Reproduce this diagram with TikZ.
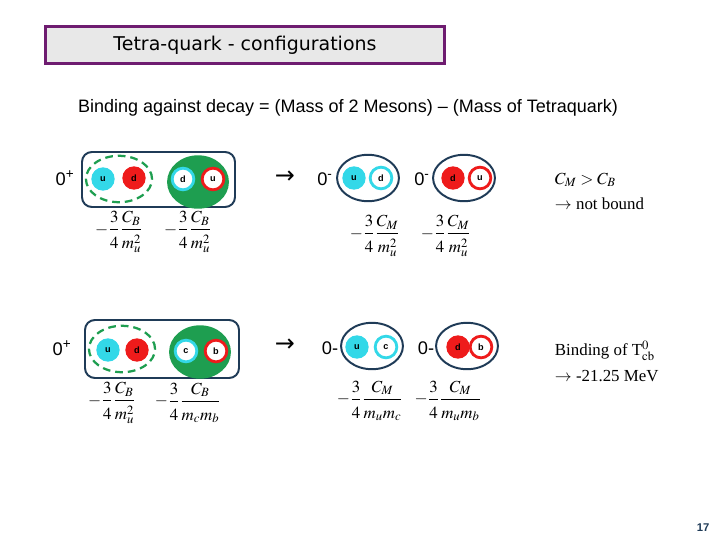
\documentclass[tikz,border=0pt]{standalone}
\usepackage{amsmath}
\usepackage{mathptmx}
\usepackage{fontspec}
\setmainfont{Liberation Serif}
\setsansfont{Liberation Sans}
\newfontfamily\titlefont{DejaVu Sans}
\usepackage{xcolor}
\usetikzlibrary{positioning,shapes.geometric}

\definecolor{qcyan}{HTML}{33D8E8}
\definecolor{qred}{HTML}{EE1B1B}
\definecolor{qgreen}{HTML}{1E9E50}
\definecolor{boxnavy}{HTML}{1F3B57}
\definecolor{titlepurple}{HTML}{6E1C70}
\definecolor{titlegrey}{HTML}{E8E8E8}

% binding coefficient -3/4 C/(m m)
\newcommand{\numstrut}{\rule[-0.3ex]{0pt}{0pt}}
\newcommand{\denstrut}{\rule{0pt}{2.1ex}}
\newcommand{\bindcoef}[2]{$-\dfrac{3\numstrut}{\denstrut 4}\dfrac{#1\numstrut}{\denstrut #2}$}

\begin{document}
\begin{tikzpicture}[x=0.025cm, y=-0.025cm,
  quark/.style={circle, inner sep=0pt, minimum size=16.6pt,
    font=\sffamily\bfseries\fontsize{6.5}{6.5}\selectfont},
  qfull/.style={quark, fill=#1},
  qring/.style={quark, fill=white, draw=#1, line width=2pt, minimum size=15.4pt},
  pair/.style={ellipse, inner sep=0pt, minimum width=47pt, minimum height=33pt,
    draw=qgreen, line width=1.6pt, dash pattern=on 5.5pt off 3.5pt},
  bound/.style={ellipse, inner sep=0pt, minimum width=44pt, minimum height=38pt, fill=qgreen},
  meson/.style={ellipse, inner sep=0pt, minimum width=44pt, minimum height=33pt,
    draw=boxnavy, line width=1.4pt},
  tetra/.style={draw=boxnavy, line width=1.4pt, rounded corners=7pt},
  spin/.style={font=\sffamily\fontsize{13}{14}\selectfont},
  coef/.style={font=\fontsize{12}{14}\selectfont},
  arrowtxt/.style={font=\titlefont\fontsize{17}{18}\selectfont},
  note/.style={anchor=west, font=\fontsize{12}{14}\selectfont}]
  \useasboundingbox (0,0) rectangle (720,540);

  % title
  \node[draw=titlepurple, line width=2pt, fill=titlegrey, minimum width=284pt,
    minimum height=26pt, font=\titlefont\fontsize{13.5}{15}\selectfont]
    (title) at (245,45) {Tetra-quark - configurations};
  \node[font=\sffamily\fontsize{12.8}{14}\selectfont] (binding) at (348,108)
    {Binding against decay = (Mass of 2 Mesons) -- (Mass of Tetraquark)};

  % row 1: u d d u
  \node[spin] (s1) at (65,178) {0\textsuperscript{+}};
  \draw[tetra] (82,152) rectangle (235,207);
  \node[pair] (p1) at (119,179) {};
  \node[qfull=qcyan] (u1) at (103,179) {u};
  \node[qfull=qred] (d1) at (134,178) {d};
  \node[bound] (g1) at (198,182) {};
  \node[qring=qcyan] (d2) at (183,179) {d};
  \node[qring=qred] (u2) at (213,179) {u};
  \node[coef] (c1) at (119,232) {\bindcoef{C_B}{m_u^2}};
  \node[coef] (c2) at (188,232) {\bindcoef{C_B}{m_u^2}};
  \node[arrowtxt] (a1) at (285,177) {→};

  \node[spin] (s2) at (325,179) {0\textsuperscript{-}};
  \node[meson] (m1) at (368,178) {};
  \node[qfull=qcyan] (u3) at (354,178) {u};
  \node[qring=qcyan] (d3) at (381,178) {d};
  \node[spin] (s3) at (422,179) {0\textsuperscript{-}};
  \node[meson] (m2) at (464,178) {};
  \node[qfull=qred] (d4) at (453,178) {d};
  \node[qring=qred] (u4) at (480,178) {u};
  \node[coef] (c3) at (375,236) {\bindcoef{C_M}{m_u^2}};
  \node[coef] (c4) at (446,236) {\bindcoef{C_M}{m_u^2}};

  \node[note] (n1) at (550,180) {$C_M > C_B$};
  \node[note] (n2) at (550,204) {$\rightarrow$ not bound};

  % row 2: u d c b
  \node[spin] (s4) at (62,348) {0\textsuperscript{+}};
  \draw[tetra] (85,320) rectangle (239,378);
  \node[pair] (p2) at (122,349) {};
  \node[qfull=qcyan] (u5) at (108,350) {u};
  \node[qfull=qred] (d5) at (137,350) {d};
  \node[bound] (g2) at (200,352) {};
  \node[qring=qcyan] (c5) at (186,351) {c};
  \node[qring=qred] (b5) at (216,351) {b};
  \node[coef] (c6) at (112,403) {\bindcoef{C_B}{m_u^2}};
  \node[coef] (c7) at (188,403) {\bindcoef{C_B}{m_c m_b}};
  \node[arrowtxt] (a2) at (285,345) {→};

  \node[spin] (s5) at (330,348) {0-};
  \node[meson] (m3) at (372,346) {};
  \node[qfull=qcyan] (u6) at (357,347) {u};
  \node[qring=qcyan] (c6r) at (386,347) {c};
  \node[spin] (s6) at (426,348) {0-};
  \node[meson] (m4) at (467,346) {};
  \node[qfull=qred] (d6) at (458,347) {d};
  \node[qring=qred] (b6) at (481,347) {b};
  \node[coef] (c8) at (370,401) {\bindcoef{C_M}{m_u m_c}};
  \node[coef] (c9) at (448,401) {\bindcoef{C_M}{m_u m_b}};

  \node[note] (n3) at (550,351) {Binding of T$^{0}_{\mathrm{cb}}$};
  \node[note] (n4) at (550,376) {$\rightarrow$ -21.25 MeV};

  % page number
  \node[font=\sffamily\bfseries\fontsize{8}{8}\selectfont, text=boxnavy] (page) at (703,528) {17};
\end{tikzpicture}
\end{document}
